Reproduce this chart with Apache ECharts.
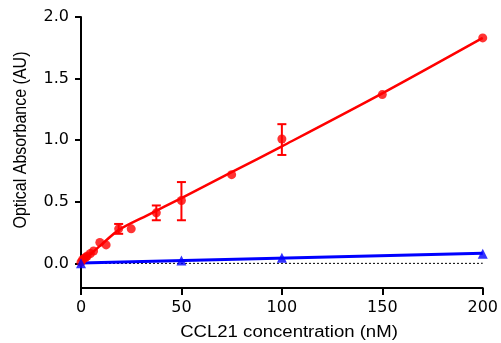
<!DOCTYPE html>
<html>
<head>
<meta charset="utf-8">
<script src="https://cdn.jsdelivr.net/npm/echarts@6/dist/echarts.min.js"></script>
<style>
html,body{margin:0;padding:0;background:#fff;}
#chart{width:501px;height:343px;}
</style>
</head>
<body>
<div id="chart"></div>
<script>
// Red series (CCL21 binding) - means
var redX = [0, 0.78, 1.56, 2.34, 3.125, 4.69, 6.25, 9.375, 12.5, 18.75, 25, 37.5, 50, 75, 100, 150, 200];
var redY = [0.01, 0.03, 0.04, 0.05, 0.06, 0.08, 0.10, 0.17, 0.15, 0.28, 0.28, 0.41, 0.51, 0.72, 1.01, 1.37, 1.83];
// Red error bars
var errX    = [18.75, 37.5, 50, 100];
var errLow  = [0.24, 0.35, 0.35, 0.88];
var errHigh = [0.32, 0.47, 0.66, 1.13];
// Red fitted curve
var redFitX = [0, 5, 10, 18.75, 33, 50, 75, 100, 150, 200];
var redFitY = [0.02, 0.08, 0.15, 0.27, 0.39, 0.53, 0.74, 0.95, 1.38, 1.83];
// Blue series (control)
var blueX = [0, 50, 100, 200];
var blueY = [0.0, 0.024, 0.046, 0.079];
var blueFitX = [0, 200];
var blueFitY = [0.003, 0.082];
// Zero reference line
var refX = [0, 200];
var refY = [0, 0];
// Ticks and titles
var yTicks = [0, 0.5, 1.0, 1.5, 2.0];
var xTitle = 'CCL21 concentration (nM)';
var yTitle = 'Optical Absorbance (AU)';

function pairs(xs, ys){ return xs.map(function(x,i){ return [x, ys[i]]; }); }

var FONT = 'Liberation Sans, Arial, sans-serif';
var TICKFONT = 'DejaVu Sans, sans-serif';
var chart = echarts.init(document.getElementById('chart'), null, {renderer:'canvas'});
chart.setOption({
  animation: false,
  backgroundColor: '#fff',
  grid: {left: 81, right: 13, top: 17, bottom: 55, containLabel: false},
  xAxis: {
    type: 'value', min: 0, max: 200, interval: 50,
    axisLine: {onZero: false, lineStyle: {color: '#000', width: 2}},
    axisTick: {show: true, length: 7, lineStyle: {color: '#000', width: 2}},
    axisLabel: {margin: 12, fontFamily: TICKFONT, fontSize: 16, color: '#000',
      formatter: function(v){ return String(v); }},
    splitLine: {show: false}
  },
  yAxis: {
    type: 'value', min: -0.2, max: 2.0,
    axisLine: {show: true, onZero: false, lineStyle: {color: '#000', width: 2}},
    axisTick: {show: true, length: 6, customValues: yTicks, lineStyle: {color: '#000', width: 2}},
    axisLabel: {margin: 12, fontFamily: TICKFONT, fontSize: 16, color: '#000', customValues: yTicks,
      formatter: function(v){ return v.toFixed(1); }},
    splitLine: {show: false}
  },
  graphic: [{
    type: 'text', x: 21, y: 140, rotation: Math.PI/2, scaleY: 1.15,
    style: {text: yTitle, font: '16px ' + FONT, fill: '#000',
      textAlign: 'center', textVerticalAlign: 'middle'}
  }, {
    type: 'text', x: 289, y: 333, scaleX: 1.16,
    style: {text: xTitle, font: '16px ' + FONT, fill: '#000',
      textAlign: 'center', textVerticalAlign: 'middle'}
  }],
  series: [
    {type: 'line', data: pairs(refX, refY), symbol: 'none', silent: true, z: 1,
     lineStyle: {color: '#000', width: 1, type: [2, 2]}},
    {type: 'line', data: pairs(redFitX, redFitY), symbol: 'none', smooth: 0.3, z: 2,
     lineStyle: {color: '#ff0000', width: 2.5}},
    {type: 'line', data: pairs(blueFitX, blueFitY), symbol: 'none', z: 3,
     lineStyle: {color: '#0000ff', width: 3}},
    {type: 'custom', z: 4,
     data: errX.map(function(x,i){ return [x, errLow[i], errHigh[i]]; }),
     renderItem: function(params, api){
       var lo = api.coord([api.value(0), api.value(1)]);
       var hi = api.coord([api.value(0), api.value(2)]);
       var w = 4.5;
       var st = {stroke: '#ff0000', lineWidth: 2};
       return {type: 'group', children: [
         {type: 'line', shape: {x1: lo[0], y1: lo[1], x2: hi[0], y2: hi[1]}, style: st},
         {type: 'line', shape: {x1: lo[0]-w, y1: lo[1], x2: lo[0]+w, y2: lo[1]}, style: st},
         {type: 'line', shape: {x1: hi[0]-w, y1: hi[1], x2: hi[0]+w, y2: hi[1]}, style: st}
       ]};
     }},
    {type: 'scatter', data: pairs(redX, redY), symbol: 'circle', symbolSize: 9, z: 5,
     itemStyle: {color: '#ff0000'}},
    {type: 'scatter', data: pairs(blueX, blueY), symbol: 'triangle', symbolSize: 10, z: 6,
     itemStyle: {color: '#0000ff'}}
  ]
});
</script>
</body>
</html>
